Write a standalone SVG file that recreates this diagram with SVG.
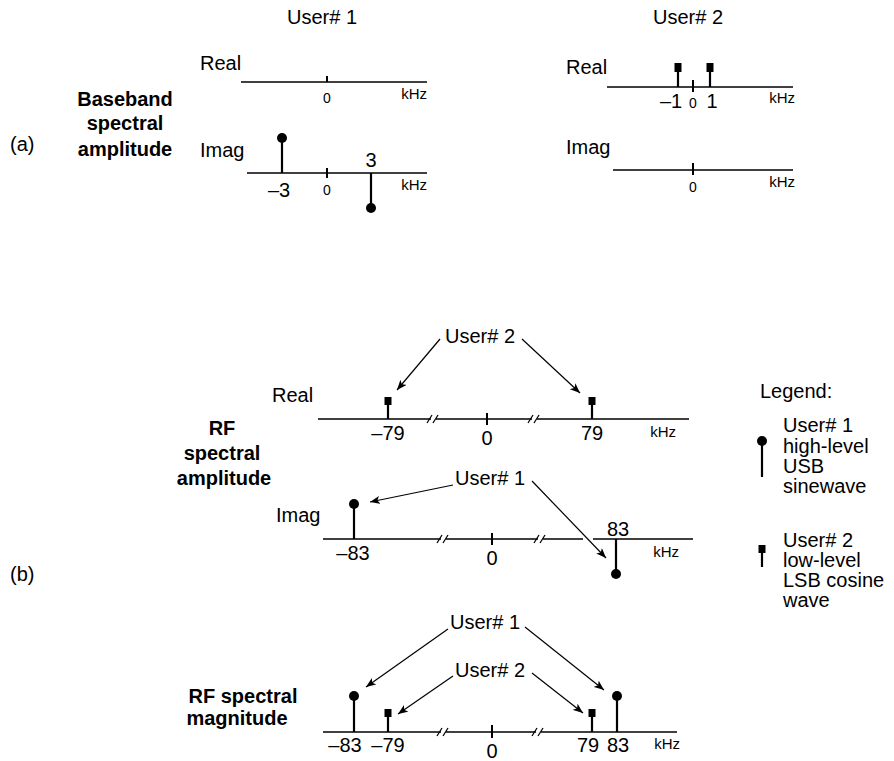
<svg xmlns="http://www.w3.org/2000/svg" width="894" height="761" viewBox="0 0 894 761">
<defs>
<style>
text{font-family:"Liberation Sans",Arial,sans-serif;font-size:20px;fill:#000}
.b{font-weight:bold}
.m{text-anchor:middle}
.e{text-anchor:end}
.s{font-size:14px}
.k{font-size:15px;text-anchor:end}
.ax{stroke:#000;stroke-width:1.5;fill:none}
.st{stroke:#000;stroke-width:2.2;fill:none}
.tk{stroke:#000;stroke-width:2}
.ar{stroke:#000;stroke-width:1.2;fill:none;marker-end:url(#ah)}
.gap{stroke:#fff;stroke-width:3}
.br{stroke:#000;stroke-width:1.3}
</style>
<marker id="ah" viewBox="0 0 10 8" refX="10" refY="4" markerWidth="10" markerHeight="8" markerUnits="userSpaceOnUse" orient="auto">
<path d="M0,0 L10,4 L0,8 L2.5,4 Z" fill="#000"/>
</marker>
</defs>
<rect width="894" height="761" fill="#fff"/>

<g id="labels-a">
<text x="322" y="24" class="m">User# 1</text>
<text x="688" y="24" class="m">User# 2</text>
<text x="10" y="151">(a)</text>
<text x="125" y="106" class="b m">Baseband</text>
<text x="125" y="130" class="b m">spectral</text>
<text x="125" y="156" class="b m">amplitude</text>
</g>

<g id="u1-real">
<text x="200" y="70">Real</text>
<line class="ax" x1="241" y1="82" x2="427" y2="82"/>
<line class="tk" x1="327" y1="76" x2="327" y2="82"/>
<text x="327" y="103" class="m s">0</text>
<text x="427" y="99" class="k">kHz</text>
</g>

<g id="u1-imag">
<text x="200" y="157">Imag</text>
<line class="ax" x1="247" y1="173" x2="427" y2="173"/>
<line class="tk" x1="327" y1="168" x2="327" y2="178"/>
<line class="st" x1="282" y1="138" x2="282" y2="173"/>
<circle cx="282" cy="138" r="5"/>
<line class="st" x1="371" y1="173" x2="371" y2="208"/>
<circle cx="371" cy="208" r="5"/>
<text x="371" y="167" class="m">3</text>
<text x="279" y="197" class="m">–3</text>
<text x="327" y="195" class="m s">0</text>
<text x="427" y="190" class="k">kHz</text>
</g>

<g id="u2-real">
<text x="566" y="74">Real</text>
<line class="ax" x1="607" y1="87" x2="793" y2="87"/>
<line class="tk" x1="693" y1="80" x2="693" y2="92"/>
<line class="st" x1="678" y1="70" x2="678" y2="87"/>
<rect x="674.5" y="63" width="7" height="9"/>
<line class="st" x1="710" y1="70" x2="710" y2="87"/>
<rect x="706.5" y="63" width="7" height="9"/>
<text x="671" y="108" class="m">–1</text>
<text x="693" y="108" class="m s">0</text>
<text x="712" y="108" class="m">1</text>
<text x="795" y="103" class="k">kHz</text>
</g>

<g id="u2-imag">
<text x="566" y="154">Imag</text>
<line class="ax" x1="613" y1="170" x2="793" y2="170"/>
<line class="tk" x1="693" y1="163" x2="693" y2="175"/>
<text x="693" y="192" class="m s">0</text>
<text x="795" y="187" class="k">kHz</text>
</g>

<g id="labels-b">
<text x="10" y="581">(b)</text>
<text x="222" y="435" class="b m">RF</text>
<text x="222" y="460" class="b m">spectral</text>
<text x="224" y="485" class="b m">amplitude</text>
<text x="243" y="703" class="b m">RF spectral</text>
<text x="237" y="725" class="b m">magnitude</text>
</g>

<g id="rf-real">
<text x="272" y="402">Real</text>
<line class="ax" x1="318" y1="419" x2="689" y2="419"/>
<line class="gap" x1="431" y1="419" x2="436" y2="419"/>
<line class="br" x1="427" y1="423" x2="432" y2="415"/>
<line class="br" x1="433" y1="423" x2="438" y2="415"/>
<line class="gap" x1="532" y1="419" x2="537" y2="419"/>
<line class="br" x1="528" y1="423" x2="533" y2="415"/>
<line class="br" x1="534" y1="423" x2="539" y2="415"/>
<line class="tk" x1="487" y1="413" x2="487" y2="425"/>
<line class="st" x1="388" y1="403" x2="388" y2="419"/>
<rect x="384.5" y="397" width="7" height="8"/>
<line class="st" x1="592" y1="403" x2="592" y2="419"/>
<rect x="588.5" y="397" width="7" height="8"/>
<text x="388" y="440" class="m">–79</text>
<text x="487" y="445" class="m">0</text>
<text x="592" y="440" class="m">79</text>
<text x="676" y="437" class="k">kHz</text>
</g>

<g id="rf-imag">
<text x="276" y="522">Imag</text>
<line class="ax" x1="323" y1="539" x2="693" y2="539"/>
<line class="gap" x1="441" y1="539" x2="446" y2="539"/>
<line class="br" x1="437" y1="543" x2="442" y2="535"/>
<line class="br" x1="443" y1="543" x2="448" y2="535"/>
<line class="gap" x1="538" y1="539" x2="543" y2="539"/>
<line class="br" x1="534" y1="543" x2="539" y2="535"/>
<line class="br" x1="540" y1="543" x2="545" y2="535"/>
<line class="gap" x1="583" y1="539" x2="593" y2="539"/>
<line class="tk" x1="492" y1="533" x2="492" y2="545"/>
<line class="st" x1="354" y1="504" x2="354" y2="539"/>
<circle cx="354" cy="504" r="5"/>
<line class="st" x1="616" y1="539" x2="616" y2="574"/>
<circle cx="616" cy="574" r="5"/>
<text x="353" y="560" class="m">–83</text>
<text x="492" y="565" class="m">0</text>
<text x="618" y="536" class="m">83</text>
<text x="679" y="557" class="k">kHz</text>
</g>

<g id="rf-mag">
<line class="ax" x1="323" y1="732" x2="677" y2="732"/>
<line class="gap" x1="441" y1="732" x2="446" y2="732"/>
<line class="br" x1="437" y1="736" x2="442" y2="728"/>
<line class="br" x1="443" y1="736" x2="448" y2="728"/>
<line class="gap" x1="536" y1="732" x2="541" y2="732"/>
<line class="br" x1="532" y1="736" x2="537" y2="728"/>
<line class="br" x1="538" y1="736" x2="543" y2="728"/>
<line class="tk" x1="492" y1="725" x2="492" y2="738"/>
<line class="st" x1="354" y1="696" x2="354" y2="732"/>
<circle cx="354" cy="696" r="5"/>
<line class="st" x1="617" y1="696" x2="617" y2="732"/>
<circle cx="617" cy="696" r="5"/>
<line class="st" x1="388" y1="715" x2="388" y2="732"/>
<rect x="384.5" y="709" width="7" height="8"/>
<line class="st" x1="592" y1="715" x2="592" y2="732"/>
<rect x="588.5" y="709" width="7" height="8"/>
<text x="345" y="752" class="m">–83</text>
<text x="388" y="752" class="m">–79</text>
<text x="492" y="758" class="m">0</text>
<text x="588" y="752" class="m">79</text>
<text x="618" y="752" class="m">83</text>
<text x="680" y="749" class="k">kHz</text>
</g>

<g id="callouts">
<text x="445" y="343">User# 2</text>
<text x="455" y="485">User# 1</text>
<text x="450" y="629">User# 1</text>
<text x="455" y="677">User# 2</text>
</g>

<g id="legend">
<text x="760" y="398">Legend:</text>
<line class="st" x1="762" y1="441" x2="762" y2="477"/>
<circle cx="762" cy="441" r="5"/>
<text x="783" y="432">User# 1</text>
<text x="783" y="453">high-level</text>
<text x="783" y="473">USB</text>
<text x="783" y="493">sinewave</text>
<line class="st" x1="762" y1="551" x2="762" y2="567"/>
<rect x="758.5" y="545" width="7" height="8"/>
<text x="783" y="547">User# 2</text>
<text x="783" y="567">low-level</text>
<text x="783" y="587">LSB cosine</text>
<text x="783" y="607">wave</text>
</g>

<g id="connectors">
<line class="ar" x1="440" y1="339" x2="397" y2="390"/>
<line class="ar" x1="522" y1="339" x2="580" y2="393"/>
<line class="ar" x1="453" y1="485" x2="370" y2="502"/>
<line class="ar" x1="532" y1="481" x2="606" y2="558"/>
<line class="ar" x1="448" y1="629" x2="366" y2="687"/>
<line class="ar" x1="525" y1="627" x2="604" y2="690"/>
<line class="ar" x1="453" y1="676" x2="398" y2="714"/>
<line class="ar" x1="532" y1="673" x2="583" y2="713"/>
</g>
</svg>
